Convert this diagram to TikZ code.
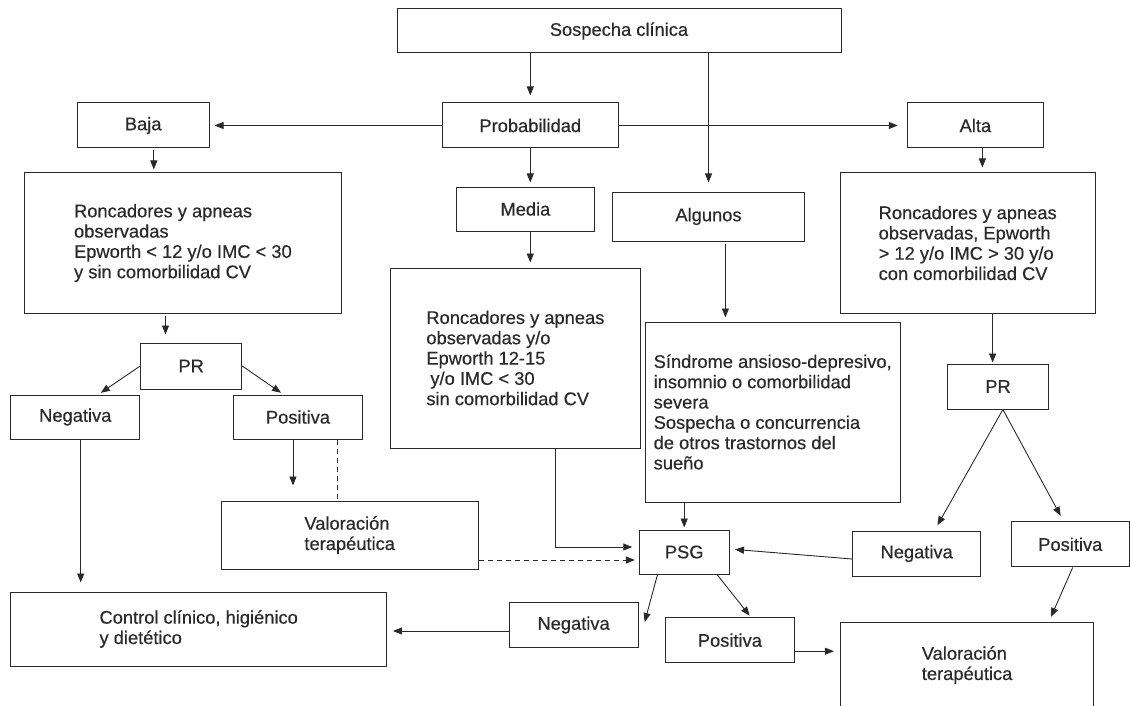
\documentclass[tikz,border=0pt]{standalone}
\usepackage{fontspec}
\setmainfont[FakeBold=0.4]{Liberation Sans}
\usepackage{xcolor}
\usetikzlibrary{arrows.meta,positioning,calc}
\definecolor{ink}{HTML}{2A2A2A}
\newcommand{\flowfont}{\fontsize{18.3}{20.3}\selectfont}
\tikzset{
  flowbox/.style={draw=ink,fill=white,line width=1pt,text=ink,
                  align=center,font=\flowfont,inner sep=2pt},
  listbox/.style={flowbox,align=left},
  flowarr/.style={-{Triangle[length=9pt,width=7pt]},line width=0.9pt,
                  color=ink,shorten >=5pt},
  dasharr/.style={flowarr,dash pattern=on 5pt off 4pt},
  dashline/.style={draw=ink,line width=0.9pt,dash pattern=on 5pt off 4pt}
}

\begin{document}
\begin{tikzpicture}[x=1pt,y=-1pt]
  \useasboundingbox[fill=white] (0,0) rectangle (1130,706);

  \node[flowbox,minimum width=444pt,minimum height=44pt] (sosp) at (619,31) {Sospecha clínica};
  \node[flowbox,minimum width=176pt,minimum height=45pt] (prob) at (530.3,125.5) {Probabilidad};
  \node[flowbox,minimum width=131.6pt,minimum height=45pt] (baja) at (143.2,125.5) {Baja};
  \node[flowbox,minimum width=136.3pt,minimum height=45pt] (alta) at (975.4,125.5) {Alta};
  \node[flowbox,minimum width=138.3pt,minimum height=44pt] (media) at (525.4,209) {Media};
  \node[flowbox,minimum width=191.6pt,minimum height=49pt] (algunos) at (708.5,216.5) {Algunos};

  \node[listbox,minimum width=316.3pt,minimum height=140pt] (lowbox) at (182.9,243)
    {Roncadores y apneas\\observadas\\Epworth < 12 y/o IMC < 30\\y sin comorbilidad CV};
  \node[listbox,minimum width=250.7pt,minimum height=180pt] (midbox) at (515.4,358)
    {Roncadores y apneas\\observadas y/o\\Epworth 12-15\\\hspace*{4pt}y/o IMC < 30\\sin comorbilidad CV};
  \node[listbox,minimum width=254.6pt,minimum height=180pt] (otherbox) at (772.7,412)
    {Síndrome ansioso-depresivo,\\insomnio o comorbilidad\\severa\\Sospecha o concurrencia\\de otros trastornos del\\sueño};
  \node[listbox,minimum width=254.7pt,minimum height=140pt] (highbox) at (967.7,243)
    {Roncadores y apneas\\observadas, Epworth\\> 12 y/o IMC > 30 y/o\\con comorbilidad CV};

  \node[flowbox,minimum width=101pt,minimum height=46pt] (prLow) at (191.2,366) {PR};
  \node[flowbox,minimum width=128.7pt,minimum height=44pt] (negLow) at (75.3,417) {Negativa};
  \node[flowbox,minimum width=128.7pt,minimum height=44pt] (posLow) at (298,417) {Positiva};
  \node[listbox,minimum width=257.4pt,minimum height=68pt] (valLow) at (349.7,535) {Valoración\\terapéutica};
  \node[listbox,minimum width=375.5pt,minimum height=74pt] (control) at (198.7,629) {Control clínico, higiénico\\y dietético};

  \node[flowbox,minimum width=89.7pt,minimum height=44pt] (psg) at (684.2,552) {PSG};
  \node[flowbox,minimum width=129.2pt,minimum height=44.6pt] (negPsg) at (573.6,625) {Negativa};
  \node[flowbox,minimum width=128.2pt,minimum height=45pt] (posPsg) at (729.9,640.2) {Positiva};

  \node[flowbox,minimum width=100.8pt,minimum height=45pt] (prHigh) at (998,386.5) {PR};
  \node[flowbox,minimum width=128pt,minimum height=45pt] (negHigh) at (916.7,553.5) {Negativa};
  \node[flowbox,minimum width=117.4pt,minimum height=45.3pt] (posHigh) at (1070.3,544.3) {Positiva};
  \node[listbox,minimum width=253.4pt,minimum height=86pt] (valHigh) at (967.1,665) {Valoración\\terapéutica};

  \draw[flowarr,shorten >=7pt] (sosp.south -| prob.north) -- (prob.north);
  \draw[flowarr,shorten >=9pt] (sosp.south -| algunos.north) -- (algunos.north);
  \draw[flowarr] (prob.west) -- (baja.east);
  \draw[flowarr,shorten >=9pt] (prob.east) -- (alta.west);
  \draw[flowarr,shorten >=4pt] (prob.south) -- (prob.south |- media.north);
  \draw[flowarr] (media.south -| prob.south) -- (midbox.north -| prob.south);

  \draw[flowarr,shorten >=3pt,shorten <=2pt] ([xshift=10.6pt]baja.south) -- ([xshift=10.6pt]baja.south |- lowbox.north);
  \draw[flowarr,shorten >=8pt,shorten <=2pt] ([xshift=-25.7pt]prLow.north |- lowbox.south) -- ([xshift=-25.7pt]prLow.north);
  \draw[flowarr,shorten >=3pt] (prLow.west) -- ([xshift=23pt]negLow.north);
  \draw[flowarr,shorten >=3pt] (prLow.east) -- ([xshift=-14.5pt]posLow.north);
  \draw[flowarr,shorten >=9pt] ([xshift=5.4pt]negLow.south) -- ([xshift=5.4pt]negLow.south |- control.north);
  \draw[flowarr,shorten >=15pt] ([xshift=-5pt]posLow.south) -- ([xshift=-5pt]posLow.south |- valLow.north);
  \draw[dashline] ([xshift=39.3pt]posLow.south) -- ([xshift=39.3pt]posLow.south |- valLow.north);

  \draw[flowarr,shorten >=6.6pt] ([xshift=40pt]midbox.south) |- ([yshift=5pt]psg.west);
  \draw[dasharr,shorten >=4pt] ([yshift=-25pt]valLow.east) -- ([yshift=-25pt]valLow.east -| psg.west);
  \draw[flowarr,shorten >=2pt] (otherbox.south -| psg.north) -- (psg.north);
  \draw[flowarr,shorten >=4pt,shorten <=2pt] ([xshift=16.9pt]algunos.south) -- ([xshift=16.9pt]algunos.south |- otherbox.north);

  \draw[flowarr,shorten >=5.5pt] ([yshift=-5.5pt]negHigh.west) -- ([yshift=3pt]psg.east);
  \draw[flowarr,shorten >=0pt] ([xshift=-26.7pt]psg.south) -- ([xshift=6pt,yshift=3pt]negPsg.east);
  \draw[flowarr,shorten >=2pt] ([xshift=32.8pt]psg.south) -- ([xshift=21pt]posPsg.north);
  \draw[flowarr,shorten >=6pt] ([yshift=-11pt]posPsg.east) -- ([yshift=-11pt]posPsg.east -| valHigh.west);
  \draw[flowarr,shorten >=6pt] ([yshift=-6pt]negPsg.west) -- ([yshift=-6pt]negPsg.west -| control.east);

  \draw[flowarr] ([xshift=7pt]alta.south) -- ([xshift=7pt]alta.south |- highbox.north);
  \draw[flowarr,shorten >=1pt] ([xshift=-5.4pt]prHigh.north |- highbox.south) -- ([xshift=-5.4pt]prHigh.north);
  \draw[flowarr,shorten >=6pt] ([xshift=4.9pt]prHigh.south) -- ([xshift=17.8pt]negHigh.north);
  \draw[flowarr,shorten >=6pt] ([xshift=4.9pt]prHigh.south) -- ([xshift=-6.8pt]posHigh.north);
  \draw[flowarr] ([xshift=2.4pt]posHigh.south) -- ([xshift=81.9pt]valHigh.north);
\end{tikzpicture}
\end{document}
